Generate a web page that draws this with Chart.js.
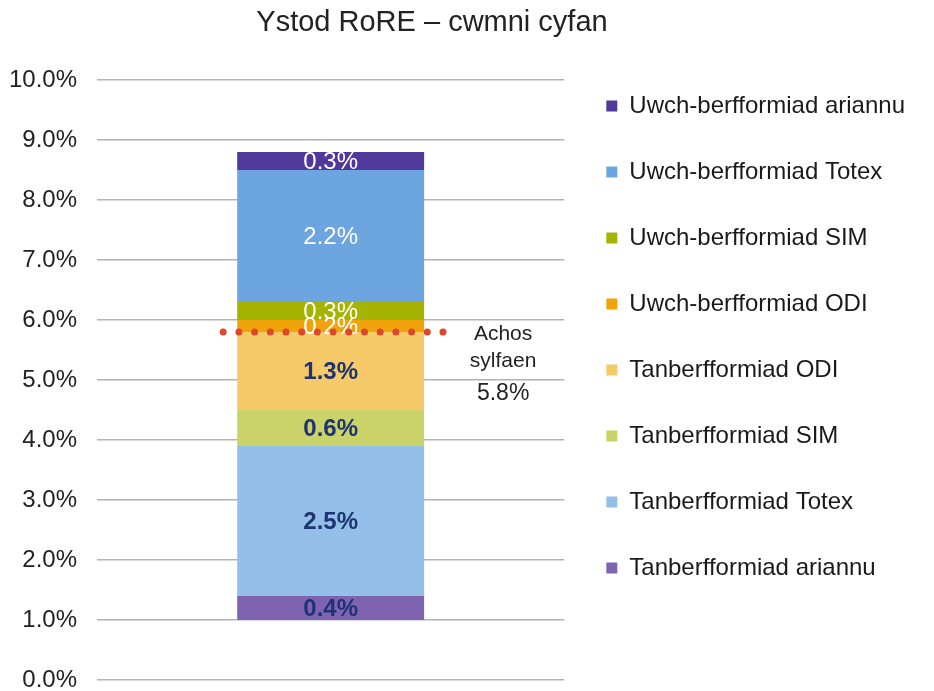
<!DOCTYPE html>
<html>
<head>
<meta charset="utf-8">
<script src="https://cdn.jsdelivr.net/npm/chart.js@4.4.0/dist/chart.umd.min.js"></script>
<style>
  html, body { margin: 0; padding: 0; background: #fff; }
  #wrap { position: relative; width: 934px; height: 691px; }
  #title {
    position: absolute; left: 0; top: 5px; width: 864px;
    text-align: center; color: #222;
    font: 29px "Liberation Sans", Arial, sans-serif;
  }
</style>
</head>
<body>
<div id="wrap">
  <canvas id="roreChart" width="934" height="691"></canvas>
  <div id="title">Ystod RoRE – cwmni cyfan</div>
</div>
<script>
// data, bottom of the stack first
const categories = ["cwmni cyfan"];
const startValue = 1.0;
const seriesNames = [
  "Tanberfformiad ariannu",
  "Tanberfformiad Totex",
  "Tanberfformiad SIM",
  "Tanberfformiad ODI",
  "Uwch-berfformiad ODI",
  "Uwch-berfformiad SIM",
  "Uwch-berfformiad Totex",
  "Uwch-berfformiad ariannu",
];
const seriesValues = [0.4, 2.5, 0.6, 1.3, 0.2, 0.3, 2.2, 0.3];
const seriesColors = [
  "#7e64b0", "#94bfe8", "#c9d36a", "#f6ca69",
  "#f0a30a", "#a5b301", "#6ca5df", "#50399a",
];
const baseCase = 5.8;
const baseCaseText = ["Achos", "sylfaen", "5.8%"];
const yMin = 0;
const yMax = 10;
const yStep = 1;

const font = "'Liberation Sans', Arial, sans-serif";

const datasets = [
  {
    label: "base",
    data: [startValue],
    backgroundColor: "rgba(0,0,0,0)",
  },
].concat(
  seriesNames.map((name, i) => ({
    label: name,
    data: [seriesValues[i]],
    backgroundColor: seriesColors[i],
    borderWidth: 0,
  }))
);

// segment labels, base case dots and note
const overlay = {
  id: "overlay",
  afterDatasetsDraw(chart) {
    const ctx = chart.ctx;
    ctx.save();
    ctx.textAlign = "center";
    ctx.textBaseline = "middle";
    chart.data.datasets.forEach((ds, i) => {
      if (i === 0) return;
      const bar = chart.getDatasetMeta(i).data[0];
      const upper = ds.label.startsWith("Uwch");
      ctx.font = (upper ? "" : "bold ") + "24px " + font;
      ctx.fillStyle = upper ? "#ffffff" : "#1d3372";
      ctx.fillText(ds.data[0].toFixed(1) + "%", bar.x, (bar.y + bar.base) / 2 + 1);
    });

    const y = chart.scales.y.getPixelForValue(baseCase);
    const bar = chart.getDatasetMeta(1).data[0];
    const left = bar.x - bar.width / 2;
    const right = bar.x + bar.width / 2;
    ctx.beginPath();
    ctx.setLineDash([0, 15.7]);
    ctx.lineCap = "round";
    ctx.lineWidth = 7;
    ctx.strokeStyle = "#df472b";
    ctx.moveTo(left - 14, y);
    ctx.lineTo(right + 19, y);
    ctx.stroke();
    ctx.setLineDash([]);

    ctx.fillStyle = "#222";
    ctx.textBaseline = "alphabetic";
    const offsets = [8, 35, 68];
    const sizes = [21, 21, 23];
    baseCaseText.forEach((t, k) => {
      ctx.font = sizes[k] + "px " + font;
      ctx.fillText(t, right + 79, y + offsets[k]);
    });
    ctx.restore();
  },
};

new Chart(document.getElementById("roreChart"), {
  type: "bar",
  data: { labels: categories, datasets: datasets },
  plugins: [overlay],
  options: {
    responsive: false,
    animation: false,
    layout: { padding: { top: 52, right: 19, bottom: 0, left: 0 } },
    datasets: {
      bar: { barPercentage: 0.4, categoryPercentage: 1.0 },
    },
    plugins: {
      tooltip: { enabled: false },
      title: { display: false },
      legend: {
        position: "right",
        align: "start",
        reverse: true,
        maxWidth: 420,
        labels: {
          boxWidth: 11,
          boxHeight: 11,
          padding: 42,
          color: "#1a1a1a",
          font: { family: font, size: 24 },
          filter: (item) => item.datasetIndex > 0,
        },
      },
    },
    scales: {
      x: {
        stacked: true,
        display: false,
      },
      y: {
        stacked: true,
        min: yMin,
        max: yMax,
        border: { display: false },
        grid: { color: "#b3b3b3", lineWidth: 1.5, drawTicks: false },
        ticks: {
          stepSize: yStep,
          padding: 20,
          color: "#222",
          font: { family: font, size: 24 },
          callback: (v) => v.toFixed(1) + "%",
        },
        afterFit: (scale) => {
          scale.width = 97;
          scale.paddingTop = 80;
          scale.paddingBottom = 11;
        },
      },
    },
  },
});
</script>
</body>
</html>
